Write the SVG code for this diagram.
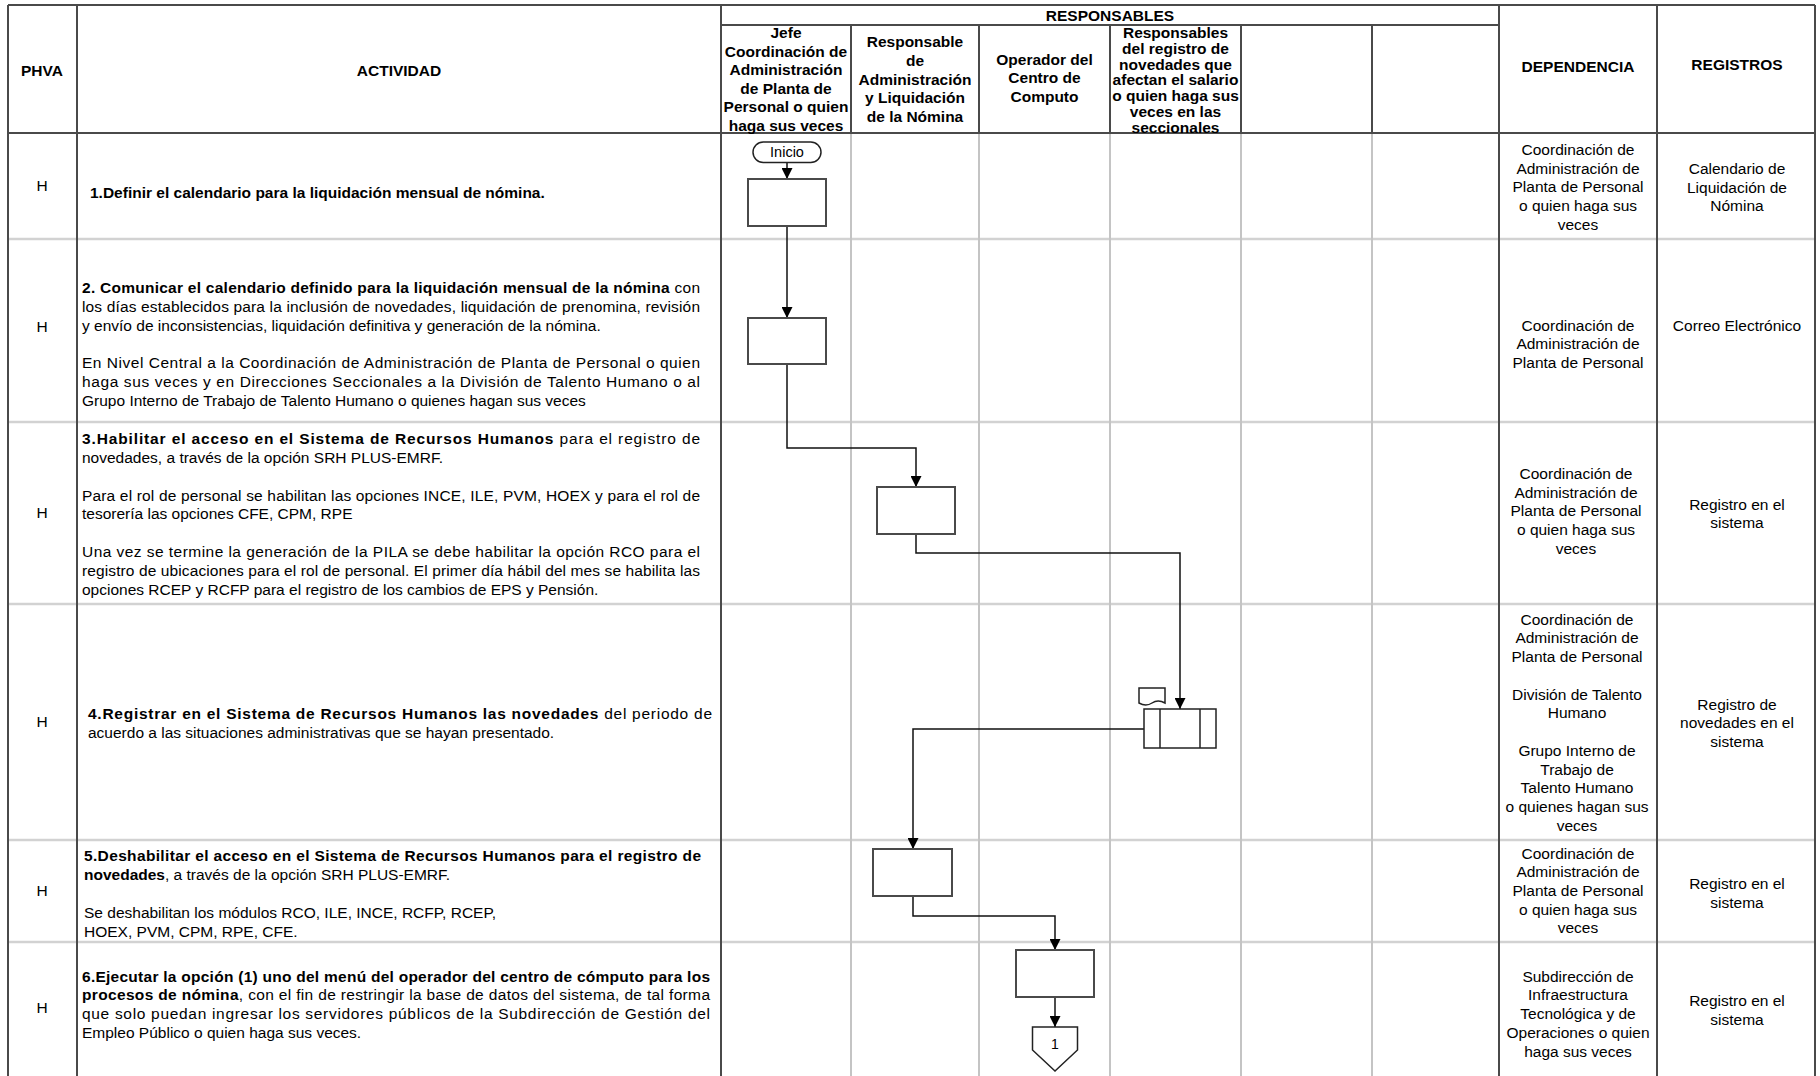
<svg xmlns="http://www.w3.org/2000/svg" width="1820" height="1076" viewBox="0 0 1820 1076">
<style>
text{font-family:"Liberation Sans",Arial,sans-serif;font-size:15.5px;fill:#000}
.b{font-weight:bold}
.c{text-anchor:middle}
.dk{stroke:#4a4a4a;stroke-width:2;fill:none}
.lt{stroke:#d2d2d2;stroke-width:2.5;fill:none}
.md{stroke:#c4c4c4;stroke-width:2;fill:none}
.box{fill:#fff;stroke:#4a4a4a;stroke-width:2}
.sym{fill:#fff;stroke:#222;stroke-width:1.5}
.cn{stroke:#111;stroke-width:1.5;fill:none;marker-end:url(#ah)}
</style>
<defs>
<marker id="ah" markerUnits="userSpaceOnUse" markerWidth="11" markerHeight="11" refX="11" refY="5.5" orient="auto">
<path d="M0,0 L11,5.5 L0,11 z" fill="#000"/>
</marker>
</defs>
<rect width="1820" height="1076" fill="#fff"/>

<g id="grid">
<!-- row separators -->
<line class="lt" x1="8" y1="239" x2="1815" y2="239"/>
<line class="lt" x1="8" y1="422" x2="1815" y2="422"/>
<line class="lt" x1="8" y1="604" x2="1815" y2="604"/>
<line class="lt" x1="8" y1="840" x2="1815" y2="840"/>
<line class="lt" x1="8" y1="942" x2="1815" y2="942"/>
<!-- light lane lines in body -->
<line class="md" x1="851" y1="133" x2="851" y2="1076"/>
<line class="md" x1="979" y1="133" x2="979" y2="1076"/>
<line class="md" x1="1110" y1="133" x2="1110" y2="1076"/>
<line class="md" x1="1241" y1="133" x2="1241" y2="1076"/>
<line class="md" x1="1372" y1="133" x2="1372" y2="1076"/>
<!-- header lane lines -->
<line class="dk" x1="851" y1="25" x2="851" y2="133" stroke-width="1.5"/>
<line class="dk" x1="979" y1="25" x2="979" y2="133" stroke-width="1.5"/>
<line class="dk" x1="1110" y1="25" x2="1110" y2="133" stroke-width="1.5"/>
<line class="dk" x1="1241" y1="25" x2="1241" y2="133" stroke-width="1.5"/>
<line class="dk" x1="1372" y1="25" x2="1372" y2="133" stroke-width="1.5"/>
<!-- main columns -->
<line class="dk" x1="8" y1="5" x2="8" y2="1076"/>
<line class="dk" x1="77" y1="5" x2="77" y2="1076"/>
<line class="dk" x1="721" y1="5" x2="721" y2="1076"/>
<line class="dk" x1="1499" y1="5" x2="1499" y2="1076"/>
<line class="dk" x1="1657" y1="5" x2="1657" y2="1076"/>
<line class="dk" x1="1815" y1="5" x2="1815" y2="1076"/>
<line class="dk" x1="8" y1="5" x2="1815" y2="5"/>
<line class="dk" x1="721" y1="25" x2="1499" y2="25"/>
<line class="dk" x1="8" y1="133" x2="1815" y2="133"/>
</g>

<g id="header">
<text class="b c" x="42" y="76">PHVA</text>
<text class="b c" x="399" y="76">ACTIVIDAD</text>
<text class="b c" x="1110" y="20.5">RESPONSABLES</text>
<text class="b c" x="1578" y="71.5">DEPENDENCIA</text>
<text class="b c" x="1737" y="69.5">REGISTROS</text>
<text class="b c"><tspan x="786" y="38">Jefe</tspan><tspan x="786" y="56.6">Coordinación de</tspan><tspan x="786" y="75.2">Administración</tspan><tspan x="786" y="93.8">de Planta de</tspan><tspan x="786" y="112.4">Personal o quien</tspan><tspan x="786" y="131">haga sus veces</tspan></text>
<text class="b c"><tspan x="915" y="47.3">Responsable</tspan><tspan x="915" y="65.9">de</tspan><tspan x="915" y="84.5">Administración</tspan><tspan x="915" y="103.1">y Liquidación</tspan><tspan x="915" y="121.7">de la Nómina</tspan></text>
<text class="b c"><tspan x="1044.5" y="64.7">Operador del</tspan><tspan x="1044.5" y="83.3">Centro de</tspan><tspan x="1044.5" y="101.9">Computo</tspan></text>
<text class="b c"><tspan x="1175.5" y="38">Responsables</tspan><tspan x="1175.5" y="53.8">del registro de</tspan><tspan x="1175.5" y="69.6">novedades que</tspan><tspan x="1175.5" y="85.4">afectan el salario</tspan><tspan x="1175.5" y="101.2">o quien haga sus</tspan><tspan x="1175.5" y="117">veces en las</tspan><tspan x="1175.5" y="132.8">seccionales</tspan></text>
</g>

<g id="phva">
<text class="c" x="42" y="191">H</text>
<text class="c" x="42" y="332">H</text>
<text class="c" x="42" y="518">H</text>
<text class="c" x="42" y="727">H</text>
<text class="c" x="42" y="896">H</text>
<text class="c" x="42" y="1013">H</text>
</g>

<g id="actividad">
<text class="b" x="90" y="197.5">1.Definir el calendario para la liquidación mensual de nómina.</text>

<text x="82" y="293.2" textLength="618" lengthAdjust="spacing"><tspan class="b">2. Comunicar el calendario definido para la liquidación mensual de la nómina</tspan> con</text>
<text x="82" y="312" textLength="618" lengthAdjust="spacing">los días establecidos para la inclusión de novedades, liquidación de prenomina, revisión</text>
<text x="82" y="330.8">y envío de inconsistencias, liquidación definitiva y generación de la nómina.</text>
<text x="82" y="368.4" textLength="618" lengthAdjust="spacing">En Nivel Central a la Coordinación de Administración de Planta de Personal o quien</text>
<text x="82" y="387.2" textLength="618" lengthAdjust="spacing">haga sus veces  y en Direcciones Seccionales a la División de Talento Humano o al</text>
<text x="82" y="406">Grupo Interno de Trabajo de Talento Humano o quienes hagan sus veces</text>

<text x="82" y="444.2" textLength="618" lengthAdjust="spacing"><tspan class="b">3.Habilitar el acceso en el Sistema de Recursos Humanos</tspan> para el registro de</text>
<text x="82" y="463">novedades, a través de la opción SRH PLUS-EMRF.</text>
<text x="82" y="500.6" textLength="618" lengthAdjust="spacing">Para el rol de personal se habilitan las opciones INCE, ILE, PVM, HOEX y para el rol de</text>
<text x="82" y="519.4">tesorería las opciones CFE, CPM, RPE</text>
<text x="82" y="557" textLength="618" lengthAdjust="spacing">Una vez se termine la generación de la PILA se debe habilitar la opción RCO para el</text>
<text x="82" y="575.8" textLength="618" lengthAdjust="spacing">registro de ubicaciones para el rol de personal. El primer día hábil del mes se habilita las</text>
<text x="82" y="594.6">opciones RCEP y RCFP para el registro de los cambios de EPS y Pensión.</text>

<text x="88" y="718.8" textLength="624" lengthAdjust="spacing"><tspan class="b">4.Registrar en el Sistema de Recursos Humanos las novedades</tspan> del periodo de</text>
<text x="88" y="737.6">acuerdo a las situaciones administrativas que se hayan presentado.</text>

<text class="b" x="84" y="860.5" textLength="617" lengthAdjust="spacing">5.Deshabilitar el acceso en el Sistema de Recursos Humanos para el registro de</text>
<text x="84" y="879.5"><tspan class="b">novedades</tspan>, a través de la opción SRH PLUS-EMRF.</text>
<text x="84" y="917.5">Se deshabilitan los módulos RCO, ILE, INCE, RCFP, RCEP,</text>
<text x="84" y="936.5">HOEX, PVM, CPM, RPE, CFE.</text>

<text class="b" x="82" y="981.5" textLength="628" lengthAdjust="spacing">6.Ejecutar la opción (1) uno del menú del operador del centro de cómputo para los</text>
<text x="82" y="1000.2" textLength="628" lengthAdjust="spacing"><tspan class="b">procesos de nómina</tspan>, con el fin de restringir la base de datos del sistema, de tal forma</text>
<text x="82" y="1018.9" textLength="628" lengthAdjust="spacing">que solo puedan ingresar los servidores públicos de la Subdirección de Gestión del</text>
<text x="82" y="1037.6">Empleo Público o quien haga sus veces.</text>
</g>

<g id="dependencia">
<text class="c"><tspan x="1578" y="154.8">Coordinación de</tspan><tspan x="1578" y="173.6">Administración de</tspan><tspan x="1578" y="192.3">Planta de Personal</tspan><tspan x="1578" y="211">o quien haga sus</tspan><tspan x="1578" y="229.8">veces</tspan></text>
<text class="c"><tspan x="1578" y="330.5">Coordinación de</tspan><tspan x="1578" y="349.2">Administración de</tspan><tspan x="1578" y="368">Planta de Personal</tspan></text>
<text class="c"><tspan x="1576" y="478.8">Coordinación de</tspan><tspan x="1576" y="497.5">Administración de</tspan><tspan x="1576" y="516.3">Planta de Personal</tspan><tspan x="1576" y="535">o quien haga sus</tspan><tspan x="1576" y="553.8">veces</tspan></text>
<text class="c"><tspan x="1577" y="624.5">Coordinación de</tspan><tspan x="1577" y="643.3">Administración de</tspan><tspan x="1577" y="662">Planta de Personal</tspan><tspan x="1577" y="699.5">División de Talento</tspan><tspan x="1577" y="718.3">Humano</tspan><tspan x="1577" y="755.8">Grupo Interno de</tspan><tspan x="1577" y="774.5">Trabajo de</tspan><tspan x="1577" y="793.3">Talento Humano</tspan><tspan x="1577" y="812">o quienes hagan sus</tspan><tspan x="1577" y="830.8">veces</tspan></text>
<text class="c"><tspan x="1578" y="858.8">Coordinación de</tspan><tspan x="1578" y="877.4">Administración de</tspan><tspan x="1578" y="896">Planta de Personal</tspan><tspan x="1578" y="914.6">o quien haga sus</tspan><tspan x="1578" y="933.2">veces</tspan></text>
<text class="c"><tspan x="1578" y="981.5">Subdirección de</tspan><tspan x="1578" y="1000.3">Infraestructura</tspan><tspan x="1578" y="1019.1">Tecnológica y de</tspan><tspan x="1578" y="1037.9">Operaciones o quien</tspan><tspan x="1578" y="1056.7">haga sus veces</tspan></text>
</g>

<g id="registros">
<text class="c"><tspan x="1737" y="173.8">Calendario de</tspan><tspan x="1737" y="192.6">Liquidación de</tspan><tspan x="1737" y="211.2">Nómina</tspan></text>
<text class="c" x="1737" y="330.5">Correo Electrónico</text>
<text class="c"><tspan x="1737" y="509.5">Registro en el</tspan><tspan x="1737" y="528.2">sistema</tspan></text>
<text class="c"><tspan x="1737" y="709.5">Registro de</tspan><tspan x="1737" y="728">novedades en el</tspan><tspan x="1737" y="746.5">sistema</tspan></text>
<text class="c"><tspan x="1737" y="888.8">Registro en el</tspan><tspan x="1737" y="907.5">sistema</tspan></text>
<text class="c"><tspan x="1737" y="1006.2">Registro en el</tspan><tspan x="1737" y="1024.5">sistema</tspan></text>
</g>

<g id="connectors">
<line class="cn" x1="787" y1="162.5" x2="787" y2="179"/>
<line class="cn" x1="787" y1="226" x2="787" y2="318"/>
<polyline class="cn" points="787,364 787,448 916,448 916,487"/>
<polyline class="cn" points="916,534 916,553 1180,553 1180,709"/>
<polyline class="cn" points="1144,729 913,729 913,849"/>
<polyline class="cn" points="913,896 913,916 1055,916 1055,950"/>
<line class="cn" x1="1055" y1="997" x2="1055" y2="1027"/>
</g>

<g id="inicio">
<rect class="sym" x="753" y="142" width="68" height="20.5" rx="10.25"/>
<text class="c" x="787" y="157" style="font-size:14.5px">Inicio</text>
</g>
<g id="box1"><rect class="box" x="748" y="179" width="78" height="47"/></g>
<g id="box2"><rect class="box" x="748" y="318" width="78" height="46"/></g>
<g id="box3"><rect class="box" x="877" y="487" width="78" height="47"/></g>
<g id="box4">
<rect class="sym" x="1144" y="709" width="72" height="39"/>
<line class="sym" x1="1160" y1="709" x2="1160" y2="748"/>
<line class="sym" x1="1200" y1="709" x2="1200" y2="748"/>
</g>
<g id="doc4">
<path class="sym" stroke-width="1.2" d="M1139,688 L1165,688 L1165,703 Q1158,699 1152,703 Q1146,707 1139,703 Z"/>
</g>
<g id="box5"><rect class="box" x="873" y="849" width="79" height="47"/></g>
<g id="box6"><rect class="box" x="1016" y="950" width="78" height="47"/></g>
<g id="offpage1">
<path class="sym" d="M1032.5,1027 L1077.5,1027 L1077.5,1050 L1055,1071 L1032.5,1050 Z"/>
<text class="c" x="1055" y="1049" style="font-size:14px">1</text>
</g>
</svg>
